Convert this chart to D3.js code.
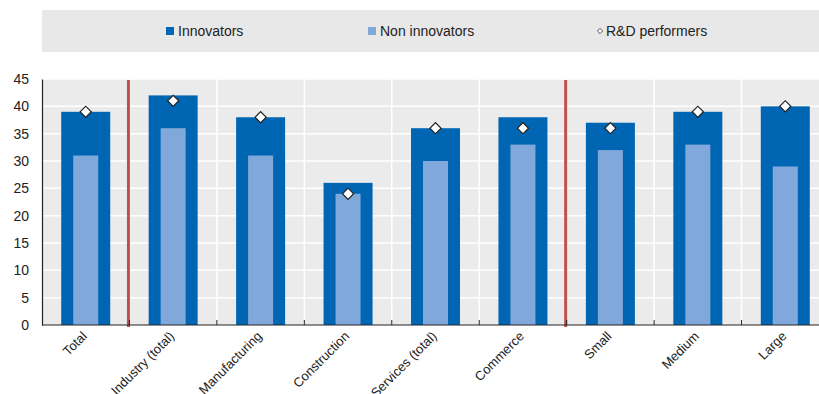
<!DOCTYPE html>
<html><head><meta charset="utf-8">
<script src="https://cdn.jsdelivr.net/npm/d3@7"></script>
<style>
body{margin:0;background:#fff;}
text{font-family:"Liberation Sans Narrow","Arial Narrow","Liberation Sans",sans-serif;fill:#222;}
</style></head>
<body><svg id="c" width="819" height="394"></svg>
<script>
const categories = ["Total","Industry (total)","Manufacturing","Construction","Services (total)","Commerce","Small","Medium","Large"];
const innovators = [39,42,38,26,36,38,37,39,40];
const nonInnovators = [31,36,31,24,30,33,32,33,29];
const rdPerformers = [39,41,38,24,36,36,36,39,40];
const yTicks = [0,5,10,15,20,25,30,35,40,45];
const separators = ["Industry (total)","Small"];

(function(){
const svg = d3.select("#c");
const pLeft = 42, pTop = 79, pBottom = 325, pRight = 829;
const x = d3.scaleBand().domain(categories).range([pLeft, pRight]).paddingInner(0).paddingOuter(0);
const y = d3.scaleLinear().domain([0,45]).range([pBottom, pTop]);
const outerW = 49, innerW = 25;

// legend
svg.append("rect").attr("x",42).attr("y",10).attr("width",777).attr("height",42).attr("fill","#e8e8e8");
const leg = [
  {label:"Innovators", type:"sq", color:"#0066b3", x:166},
  {label:"Non innovators", type:"sq", color:"#80a8da", x:368},
  {label:"R&D performers", type:"dia", x:596}
];
leg.forEach(d=>{
  if(d.type==="sq"){
    svg.append("rect").attr("x",d.x).attr("y",27).attr("width",8).attr("height",8).attr("fill",d.color);
    svg.append("text").attr("x",d.x+12).attr("y",36).attr("font-size",14).text(d.label);
  } else {
    svg.append("path").attr("d",d3.symbol(d3.symbolSquare,14)()).attr("transform",`translate(${d.x+4},31) rotate(45)`)
      .attr("fill","#fff").attr("stroke","#333").attr("stroke-width",0.8);
    svg.append("text").attr("x",d.x+10).attr("y",36).attr("font-size",14).text(d.label);
  }
});

// plot background
svg.append("rect").attr("x",pLeft).attr("y",pTop).attr("width",pRight-pLeft).attr("height",pBottom-pTop).attr("fill","#ebebeb");
svg.append("g").selectAll("line").data(yTicks.filter(t=>t>0)).join("line")
  .attr("x1",pLeft).attr("x2",pRight).attr("y1",d=>y(d)).attr("y2",d=>y(d))
  .attr("stroke","#fff").attr("stroke-width",1.5);
svg.append("g").selectAll("line").data(categories.slice(1)).join("line")
  .attr("x1",d=>x(d)).attr("x2",d=>x(d)).attr("y1",pTop).attr("y2",pBottom)
  .attr("stroke","#fff").attr("stroke-width",1.5);

// bars
svg.append("g").selectAll("rect").data(categories).join("rect")
  .attr("x",d=>x(d)+x.bandwidth()/2-outerW/2).attr("width",outerW)
  .attr("y",(d,i)=>y(innovators[i])).attr("height",(d,i)=>pBottom-y(innovators[i]))
  .attr("fill","#0066b3");
svg.append("g").selectAll("rect").data(categories).join("rect")
  .attr("x",d=>x(d)+x.bandwidth()/2-innerW/2).attr("width",innerW)
  .attr("y",(d,i)=>y(nonInnovators[i])).attr("height",(d,i)=>pBottom-y(nonInnovators[i]))
  .attr("fill","#80a8da");

// separators
svg.append("g").selectAll("line").data(separators).join("line")
  .attr("x1",d=>x(d)-1).attr("x2",d=>x(d)-1).attr("y1",pTop+1).attr("y2",pBottom+2)
  .attr("stroke","#c0504d").attr("stroke-width",3);

// diamonds
svg.append("g").selectAll("path").data(categories).join("path")
  .attr("d",d3.symbol(d3.symbolSquare,62)())
  .attr("transform",(d,i)=>`translate(${x(d)+x.bandwidth()/2},${y(rdPerformers[i])}) rotate(45)`)
  .attr("fill","#fff").attr("stroke","#222").attr("stroke-width",1.2);

// axes
const yAxis = d3.axisLeft(y).tickValues(yTicks).tickSize(0).tickPadding(13);
const gy = svg.append("g").attr("transform",`translate(${pLeft},0)`).call(yAxis);
gy.select(".domain").attr("stroke","#222").attr("stroke-width",1.2);
gy.selectAll("text").attr("font-size",14).attr("fill","#222").style("font-family","'Liberation Sans Narrow','Liberation Sans',sans-serif");
svg.append("line").attr("x1",pLeft).attr("x2",pRight).attr("y1",pBottom).attr("y2",pBottom).attr("stroke","#222").attr("stroke-width",1.2);
svg.append("g").selectAll("line").data(categories.slice(1)).join("line")
  .attr("x1",d=>x(d)).attr("x2",d=>x(d)).attr("y1",pBottom-5).attr("y2",pBottom)
  .attr("stroke","#222").attr("stroke-width",1);

// x labels
svg.append("g").selectAll("text").data(categories).join("text")
  .attr("transform",d=>`translate(${x(d)+x.bandwidth()/2+2},${pBottom+12}) rotate(-45)`)
  .attr("text-anchor","end").attr("font-size",13).text(d=>d);
})();
</script></body></html>
